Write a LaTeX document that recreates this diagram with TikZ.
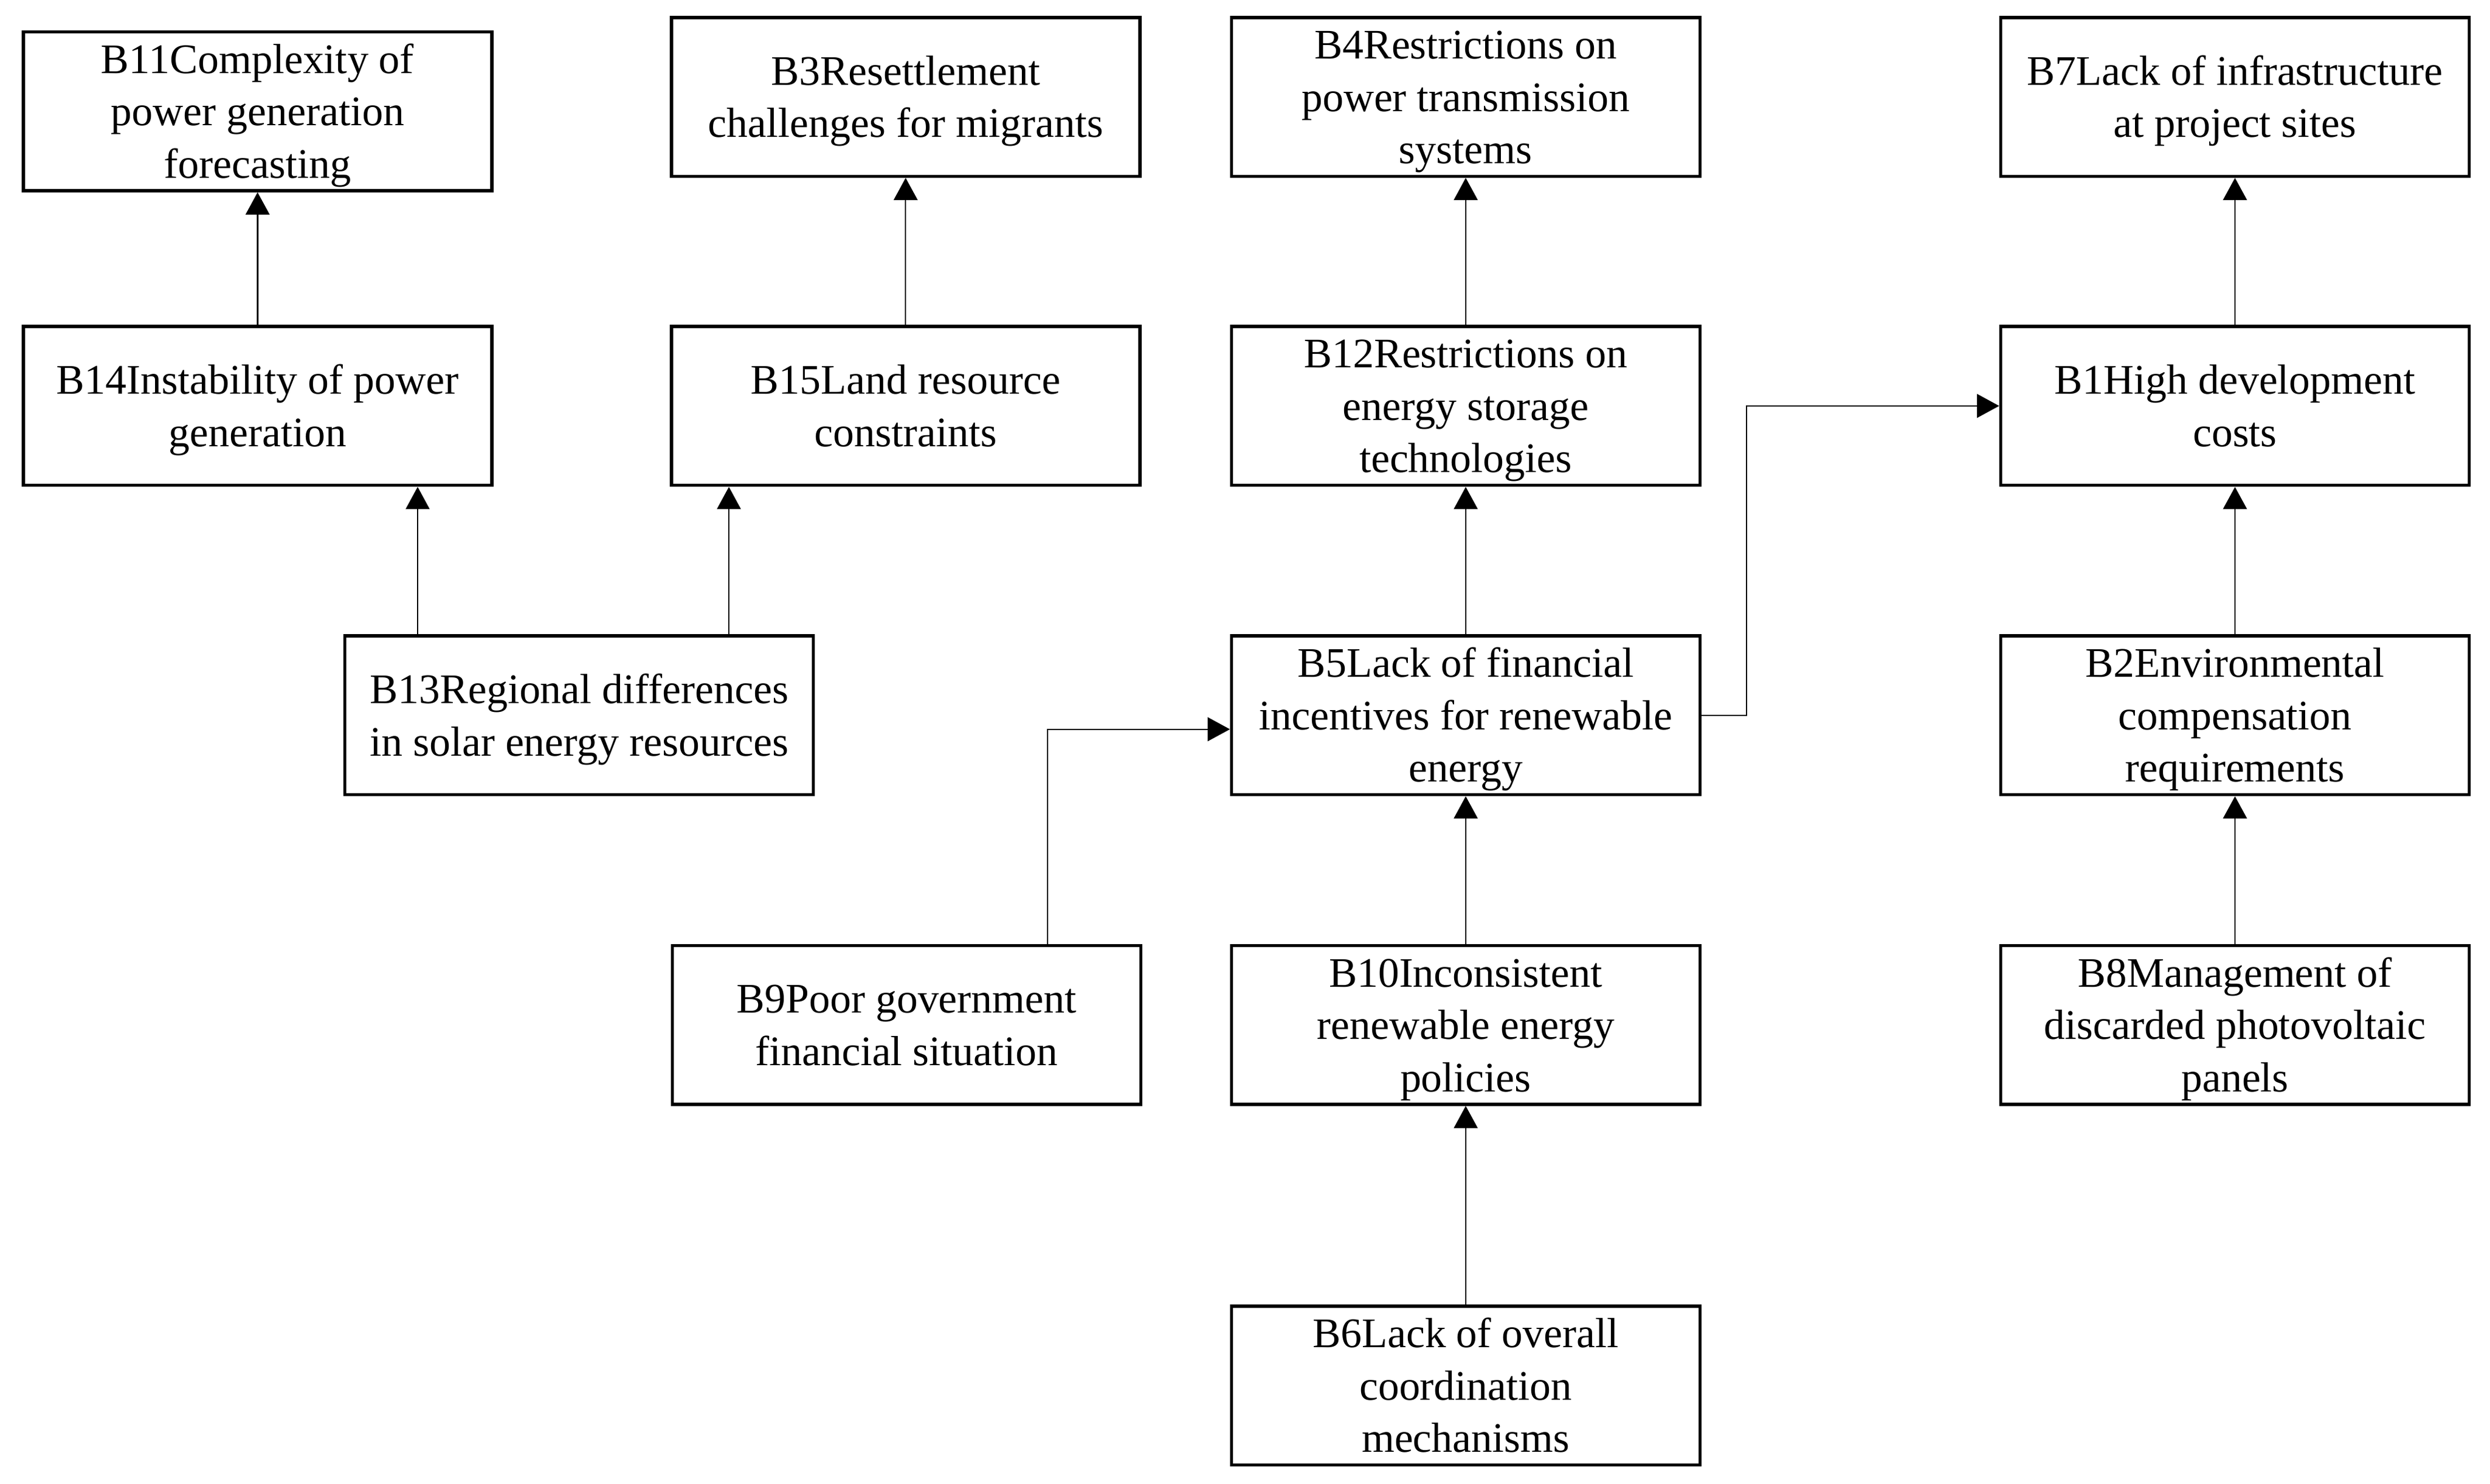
\documentclass[tikz,border=0pt]{standalone}
\usepackage{fontspec}
\setmainfont{Liberation Serif}
\usetikzlibrary{arrows.meta}
\newcommand\tops{\rule{0pt}{24pt}}
\newcommand\bots{\rule[-6pt]{0pt}{6pt}}
\begin{document}
\begin{tikzpicture}[x=1pt,y=-1pt,
  box/.style={draw=black,line width=2pt,minimum width=295pt,minimum height=100pt,
    inner sep=0pt,align=center,font=\fontsize{26.5}{33}\selectfont},
  arr/.style={line width=0.85pt,-{Triangle[length=14pt,width=15pt]}}]
\useasboundingbox (0,0) rectangle (1568,934.1);
% row 1
\node[box] (B11) at (162.2,70.1) {\tops B11Complexity of\\power generation\\forecasting\bots};
\node[box] (B3) at (570.3,61) {\tops B3Resettlement\\challenges for migrants\bots};
\node[box] (B4) at (923,61) {\tops B4Restrictions on\\power transmission\\systems\bots};
\node[box] (B7) at (1407.4,61) {\tops B7Lack of infrastructure\\at project sites\bots};
% row 2
\node[box] (B14) at (162.2,255.6) {\tops B14Instability of power\\generation\bots};
\node[box] (B15) at (570.3,255.6) {\tops B15Land resource\\constraints\bots};
\node[box] (B12) at (923,255.6) {\tops B12Restrictions on\\energy storage\\technologies\bots};
\node[box] (B1) at (1407.4,255.6) {\tops B1High development\\costs\bots};
% row 3
\node[box] (B13) at (364.7,450.4) {\tops B13Regional differences\\in solar energy resources\bots};
\node[box] (B5) at (923,450.4) {\tops B5Lack of financial\\incentives for renewable\\energy\bots};
\node[box] (B2) at (1407.4,450.4) {\tops B2Environmental\\compensation\\requirements\bots};
% row 4
\node[box] (B9) at (570.9,645.4) {\tops B9Poor government\\financial situation\bots};
\node[box] (B10) at (923,645.4) {\tops B10Inconsistent\\renewable energy\\policies\bots};
\node[box] (B8) at (1407.4,645.4) {\tops B8Management of\\discarded photovoltaic\\panels\bots};
% row 5
\node[box] (B6) at (923,872.5) {\tops B6Lack of overall\\coordination\\mechanisms\bots};
% connectors
\draw[arr] (B14.north) -- (B11.south);
\draw[arr] (B15.north) -- (B3.south);
\draw[arr] (B12.north) -- (B4.south);
\draw[arr] (B1.north) -- (B7.south);
\path (B13.north) ++(-101.7,0) coordinate (t1);
\path (B13.north) ++(94.3,0) coordinate (t2);
\draw[arr] (t1) -- (t1 |- B14.south);
\draw[arr] (t2) -- (t2 |- B15.south);
\draw[arr] (B5.north) -- (B12.south);
\draw[arr] (B5.east) -- ++(28.3,0) |- (B1.west);
\path (B9.north) ++(88.8,0) coordinate (t3);
\path (B5.west) ++(0,8.8) coordinate (t4);
\draw[arr] (t3) |- (t4);
\draw[arr] (B10.north) -- (B5.south);
\draw[arr] (B6.north) -- (B10.south);
\draw[arr] (B2.north) -- (B1.south);
\draw[arr] (B8.north) -- (B2.south);
\end{tikzpicture}
\end{document}
